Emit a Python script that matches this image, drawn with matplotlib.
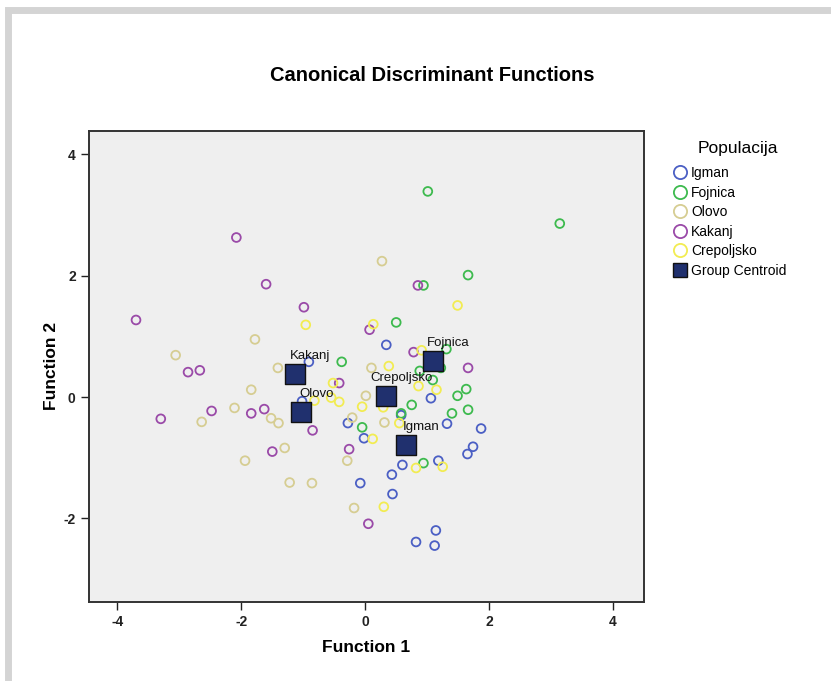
import matplotlib
matplotlib.use("Agg")
import matplotlib.pyplot as plt
from matplotlib.patches import Rectangle
from matplotlib.lines import Line2D

plt.rcParams['font.family'] = ['Liberation Sans', 'DejaVu Sans']
plt.rcParams['axes.unicode_minus'] = False

# Function 1 / Function 2 scores per population
igman_x = [1.14, 0.82, 1.12, 0.44, 0.43, 0.60, -0.08, 1.18, 1.65, 1.74, 1.87, 1.32, 1.06, 0.58, -0.02, -0.28, 0.34, -0.91, -1.02]
igman_y = [-2.20, -2.39, -2.45, -1.60, -1.28, -1.12, -1.42, -1.05, -0.94, -0.82, -0.52, -0.44, -0.02, -0.30, -0.68, -0.43, 0.86, 0.58, -0.07]

fojnica_x = [1.01, 3.14, 1.66, 0.94, 0.50, 1.31, 1.22, 0.88, 1.09, 1.63, 1.49, 0.75, 1.40, 1.66, 0.58, -0.38, -0.05, 0.94]
fojnica_y = [3.39, 2.86, 2.01, 1.84, 1.23, 0.79, 0.48, 0.43, 0.28, 0.13, 0.02, -0.13, -0.27, -0.21, -0.27, 0.58, -0.50, -1.09]

olovo_x = [-1.78, -3.06, -1.41, 0.27, -1.84, -2.11, -2.64, -1.52, -1.40, -1.30, -1.94, -1.22, -0.86, -0.18, -0.29, 0.01, -0.21, 0.10, 0.31]
olovo_y = [0.95, 0.69, 0.48, 2.24, 0.12, -0.18, -0.41, -0.35, -0.43, -0.84, -1.05, -1.41, -1.42, -1.83, -1.05, 0.02, -0.34, 0.48, -0.42]

kakanj_x = [-2.08, -1.60, -0.99, -3.70, 0.07, 0.85, 0.78, 1.66, -2.86, -2.67, -3.30, -2.48, -1.84, -1.63, -0.85, -1.50, -0.42, -0.26, 0.05]
kakanj_y = [2.63, 1.86, 1.48, 1.27, 1.11, 1.84, 0.74, 0.48, 0.41, 0.44, -0.36, -0.23, -0.27, -0.20, -0.55, -0.90, 0.23, -0.86, -2.09]

crep_x = [-0.96, 1.49, 0.13, 0.91, 0.38, 0.86, 1.15, -0.05, 0.29, 0.55, 0.12, 0.82, 1.25, 0.30, -0.52, -0.55, -0.42, -0.82]
crep_y = [1.19, 1.51, 1.20, 0.77, 0.51, 0.18, 0.12, -0.16, -0.17, -0.43, -0.69, -1.17, -1.15, -1.81, 0.23, -0.01, -0.08, -0.06]

centroid_names = ["Igman", "Fojnica", "Olovo", "Kakanj", "Crepoljsko"]
centroid_x = [0.66, 1.10, -1.04, -1.14, 0.34]
centroid_y = [-0.79, 0.59, -0.25, 0.38, 0.02]

fig = plt.figure(figsize=(8.31, 6.81), dpi=100)

# light grey frame round the whole picture
fig.patches.append(Rectangle((7.5 / 831, -0.05), 1.2, 1.0 - 10.5 / 681 + 0.05,
                             transform=fig.transFigure, fill=False,
                             edgecolor='#d4d4d4', linewidth=5))

ax = fig.add_axes([0.107, 0.116, 0.668, 0.692])
ax.set_facecolor('#efefef')

groups = [
    ("Igman", igman_x, igman_y, '#4b5fc4'),
    ("Fojnica", fojnica_x, fojnica_y, '#3dba4e'),
    ("Olovo", olovo_x, olovo_y, '#d6cd92'),
    ("Kakanj", kakanj_x, kakanj_y, '#9a4aa8'),
    ("Crepoljsko", crep_x, crep_y, '#f2ec52'),
]
handles = []
for name, xs, ys, col in groups:
    ax.scatter(xs, ys, s=40, facecolors='none', edgecolors=col, linewidths=1.3, zorder=3)
    handles.append(Line2D([], [], linestyle='none', marker='o', markersize=9.5,
                          markerfacecolor='none', markeredgecolor=col, markeredgewidth=1.3, label=name))

ax.scatter(centroid_x, centroid_y, s=190, marker='s', facecolor='#20306e',
           edgecolor='#111111', linewidths=1.0, zorder=5)
handles.append(Line2D([], [], linestyle='none', marker='s', markersize=10.5,
                      markerfacecolor='#20306e', markeredgecolor='#111111', label='Group Centroid'))
for name, cx, cy in zip(centroid_names, centroid_x, centroid_y):
    ax.annotate(name, (cx, cy), xytext=(11, 13), textcoords='offset points',
                ha='center', va='center', fontsize=9.5, color='#111111', zorder=6)

ax.set_xlim(-4.46, 4.5)
ax.set_ylim(-3.38, 4.39)
ax.set_xticks([-4, -2, 0, 2, 4])
ax.set_yticks([-2, 0, 2, 4])
ax.tick_params(direction='out', length=6, width=1, labelsize=10, colors='#222222')
for lab in ax.get_xticklabels() + ax.get_yticklabels():
    lab.set_fontweight('bold')
for sp in ax.spines.values():
    sp.set_linewidth(1.4)
    sp.set_color('#333333')

ax.set_xlabel("Function 1", fontsize=12.5, fontweight='bold', labelpad=8)
ax.set_ylabel("Function 2", fontsize=12.5, fontweight='bold', labelpad=3)
fig.text(0.52, 0.889, "Canonical Discriminant Functions", ha='center', va='center',
         fontsize=14.5, fontweight='bold')

# legend title placed on its own, entries below it
fig.text(738 / 831, 1 - 149 / 681, "Populacija", ha='center', va='center', fontsize=12.5)
leg = ax.legend(handles=handles, loc='upper left', bbox_to_anchor=(673 / 831, 1 - 166 / 681),
                bbox_transform=fig.transFigure, frameon=False,
                fontsize=10, handletextpad=0.3, labelspacing=0.4,
                borderaxespad=0, borderpad=0, handlelength=1.0)

plt.savefig("out.png", dpi=100)
